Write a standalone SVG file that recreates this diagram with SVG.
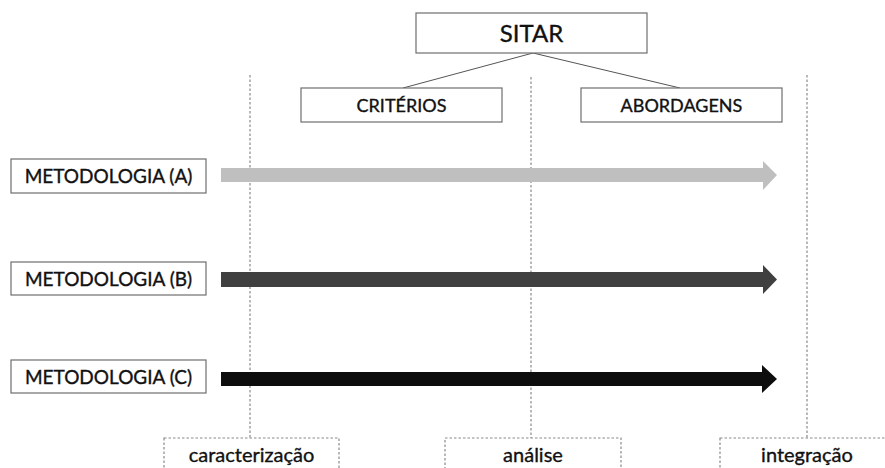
<svg xmlns="http://www.w3.org/2000/svg" width="885" height="468" viewBox="0 0 885 468">
<style>
.box{fill:#fff;stroke:#6e6e6e;stroke-width:1.2}
.dbox{fill:#fff;stroke:#8a8a8a;stroke-width:1.2;stroke-dasharray:2.5 2}
.t{font-family:Lato,"Open Sans","Liberation Sans",sans-serif;fill:#111;stroke:#111;stroke-width:0.35;text-anchor:middle}
.guide{stroke:#8a8a8a;stroke-width:1.2;stroke-dasharray:2.5 2;fill:none}
.conn{stroke:#555;stroke-width:1;fill:none}
</style>
<rect width="885" height="468" fill="#fff"/>
<g id="guides">
<line class="guide" x1="250" y1="75" x2="250" y2="438"/>
<line class="guide" x1="531" y1="77" x2="531" y2="438"/>
<line class="guide" x1="807" y1="75" x2="807" y2="438"/>
</g>
<g id="connectors">
<polyline class="conn" points="403,88 533,53 680,88"/>
<path d="M221,168 H763 V161 L777,175 L763,190 V182 H221 Z" fill="#bfbfbf"/>
<path d="M221,272 H763 V265 L777,279.5 L763,294 V287 H221 Z" fill="#404040"/>
<path d="M221,372 H762 V365 L777,379 L762,393 V386 H221 Z" fill="#0d0d0d"/>
</g>
<g id="sitar">
<rect class="box" x="416" y="13" width="231" height="40"/>
<text class="t" x="531.5" y="42" font-size="24">SITAR</text>
</g>
<g id="criterios">
<rect class="box" x="301" y="88" width="201" height="34"/>
<text class="t" x="401.5" y="111.5" font-size="18">CRITÉRIOS</text>
</g>
<g id="abordagens">
<rect class="box" x="581" y="88" width="201" height="34"/>
<text class="t" x="681.5" y="111.5" font-size="18">ABORDAGENS</text>
</g>
<g id="metodologia-a">
<rect class="box" x="11" y="159" width="195" height="34"/>
<text class="t" x="108.5" y="183" font-size="19">METODOLOGIA (A)</text>
</g>
<g id="metodologia-b">
<rect class="box" x="11" y="262" width="195" height="33"/>
<text class="t" x="108.5" y="286" font-size="19">METODOLOGIA (B)</text>
</g>
<g id="metodologia-c">
<rect class="box" x="11" y="360" width="195" height="33"/>
<text class="t" x="108.5" y="384" font-size="19">METODOLOGIA (C)</text>
</g>
<g id="caracterizacao">
<rect class="dbox" x="164" y="438" width="175" height="40"/>
<text class="t" x="251.5" y="462" font-size="20">caracterização</text>
</g>
<g id="analise">
<rect class="dbox" x="445" y="438" width="176" height="40"/>
<text class="t" x="533" y="462" font-size="20">análise</text>
</g>
<g id="integracao">
<rect class="dbox" x="720" y="438" width="175" height="40"/>
<text class="t" x="807" y="462" font-size="20">integração</text>
</g>
</svg>
